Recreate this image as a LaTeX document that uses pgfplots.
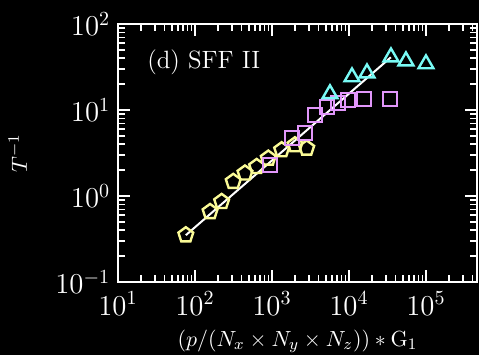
\documentclass[border=0pt]{standalone}
\usepackage{pgfplots}
\pgfplotsset{compat=1.18}
\usetikzlibrary{plotmarks,backgrounds}
\definecolor{cyel}{RGB}{250,250,150}
\definecolor{cmag}{RGB}{225,150,250}
\definecolor{ccya}{RGB}{120,250,245}
\begin{document}
\begin{tikzpicture}
\begin{scope}[color=white]
\begin{axis}[
  at={(59pt,36.5pt)}, anchor=south west,
  scale only axis, width=179.5pt, height=129pt,
  xmode=log, ymode=log,
  xmin=10, xmax=4.6e5, ymin=0.1, ymax=100,
  xtick={10,100,1000,10000,100000},
  ytick={0.1,1,10,100},
  line width=1.2pt,
  tick style={white, line width=0.8pt},
  major tick length=6pt, minor tick length=3.5pt,
  tick label style={font=\fontsize{14}{16}\selectfont},
  xticklabel style={yshift=-1pt},
  label style={font=\fontsize{11}{13}\selectfont},
  xlabel={$(p/(N_x \times N_y \times N_z))*\mathrm{G}_1$},
  ylabel={$T^{-1}$},
  ylabel style={yshift=7pt},
]
\addplot[only marks, mark=pentagon, mark size=3.9pt, cyel, line width=1.2pt] coordinates {
 (76,0.352) (157,0.656) (222,0.859) (314,1.47) (446,1.84) (632,2.19)
 (895,2.74) (1336,3.43) (1990,3.92) (2825,3.59)
};
\addplot[only marks, mark=square, mark size=3.5pt, cmag, line width=1.2pt] coordinates {
 (942,2.29) (1820,4.72) (2683,5.4) (3615,8.75) (5180,10.8) (7194,12.1)
 (9700,13.1) (15660,13.4) (34070,13.4)
};
\addplot[only marks, mark=triangle, mark size=4.3pt, ccya, line width=1.2pt] coordinates {
 (5666,15.4) (10940,24.2) (17130,26.9) (35110,41.3) (54950,37.1) (100000,34.3)
};
\addplot[white, line width=1pt] coordinates {(76,0.35) (35000,41)};
\node[white, anchor=west, font=\fontsize{12.5}{14}\selectfont] at (axis cs:19,36) {(d) SFF II};
\end{axis}
\end{scope}
% tick marks of the log axes (frame decoration)
\foreach \d in {0,...,4}{
  \foreach \m in {1,...,9}{
    \pgfmathsetmacro\xx{59+38.497*(\d+log10(\m))}
    \pgfmathsetmacro\len{ifthenelse(\m==1,6,3.5)}
    \ifdim\xx pt<237.5pt
      \draw[white, line width=0.8pt] (\xx pt,36.5pt) -- ++(0,\len pt);
      \draw[white, line width=0.8pt] (\xx pt,165.5pt) -- ++(0,-\len pt);
    \fi
  }
}
\foreach \d in {0,1,2}{
  \foreach \m in {1,...,9}{
    \pgfmathsetmacro\yy{36.5+43*(\d+log10(\m))}
    \pgfmathsetmacro\len{ifthenelse(\m==1,6,3.5)}
    \draw[white, line width=0.8pt] (59pt,\yy pt) -- ++(\len pt,0);
    \draw[white, line width=0.8pt] (238.5pt,\yy pt) -- ++(-\len pt,0);
  }
}
\pgfresetboundingbox
\useasboundingbox (0,0) rectangle (239.5pt,177.5pt);
\begin{scope}[on background layer]
\fill[black] (0,0) rectangle (239.5pt,177.5pt);
\end{scope}
\end{tikzpicture}
\end{document}
